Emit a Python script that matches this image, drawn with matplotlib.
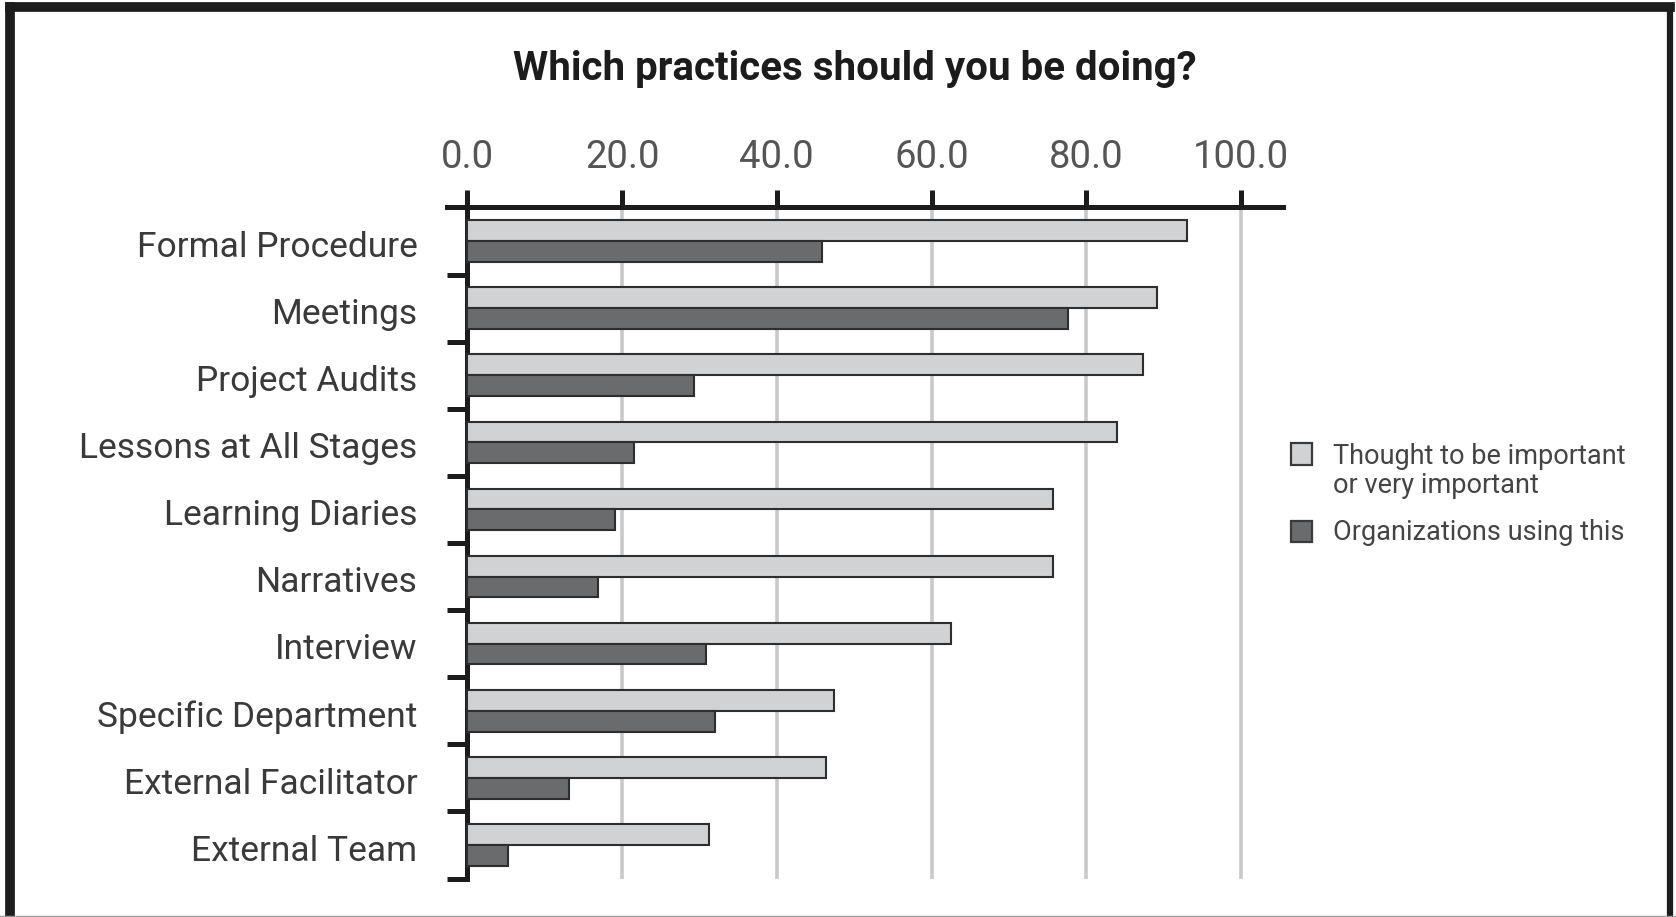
import numpy as np
import matplotlib
matplotlib.use("Agg")
import matplotlib.pyplot as plt
from matplotlib.patches import Rectangle
from matplotlib.lines import Line2D

# survey results, percent of respondents
practices = ['Formal Procedure', 'Meetings', 'Project Audits', 'Lessons at All Stages',
             'Learning Diaries', 'Narratives', 'Interview', 'Specific Department',
             'External Facilitator', 'External Team']
important = [93.0, 89.2, 87.3, 84.0, 75.7, 75.7, 62.5, 47.4, 46.3, 31.3]
using = [45.9, 77.7, 29.3, 21.6, 19.1, 16.9, 30.9, 32.0, 13.1, 5.3]
xticks = [0, 20, 40, 60, 80, 100]
legend_labels = ['Thought to be important\nor very important', 'Organizations using this']
title = 'Which practices should you be doing?'

LIGHT = '#d1d2d4'
DARK = '#6a6b6d'
EDGE = '#2e2e2e'
INK = '#1c1c1c'

plt.rcParams['font.family'] = ['Roboto', 'DejaVu Sans']
NARROW = ['Liberation Sans Narrow', 'Roboto', 'DejaVu Sans']

W, H = 1676, 917
fig = plt.figure(figsize=(W / 100, H / 100), dpi=100)
ax = fig.add_axes([446.8 / W, 1 - 878.6 / H, 835.9 / W, 671.2 / H])

y = np.arange(len(practices))
ax.barh(y - 0.155, important, height=0.31, color=LIGHT, edgecolor=EDGE, lw=1.5, zorder=3)
ax.barh(y + 0.155, using, height=0.31, color=DARK, edgecolor=EDGE, lw=1.5, zorder=3)

ax.set_xlim(-2.66, 105.4)
ax.set_ylim(len(practices) - 0.5, -0.5)

# axis on top, category axis pinned at zero
for s in ['right', 'bottom']:
    ax.spines[s].set_visible(False)
ax.spines['top'].set_linewidth(3.6)
ax.spines['top'].set_color(INK)
ax.spines['left'].set_position(('data', 0))
ax.spines['left'].set_linewidth(3.6)
ax.spines['left'].set_color(INK)

ax.xaxis.tick_top()
ax.set_xticks(xticks)
ax.set_xticklabels([f'{v:.1f}' for v in xticks])
ax.tick_params(axis='x', direction='out', length=12.5, width=3.6, color=INK,
               labelsize=27.5, labelcolor='#555555', pad=10)

ax.set_yticks(y + 0.5)
ax.set_yticklabels([])
ax.set_yticks(y + 0.04, minor=True)
ax.set_yticklabels(practices, minor=True)
ax.tick_params(axis='y', which='major', direction='out', length=14.5, width=3.6, color=INK)
ax.tick_params(axis='y', which='minor', length=0, pad=36, labelsize=25.5, labelcolor='#3a3a3a')

ax.grid(axis='x', color='#c8c9cb', lw=2.6, zorder=0)
ax.set_axisbelow(True)

fig.text(855 / W, 1 - 69 / H, title, ha='center', va='center', fontsize=29,
         fontweight='bold', color=INK, family=NARROW)

# legend
for (cy, fc) in [(454, LIGHT), (531, DARK)]:
    fig.add_artist(Rectangle((1291 / W, 1 - (cy + 10.5) / H), 21 / W, 21 / H,
                             transform=fig.transFigure, facecolor=fc,
                             edgecolor='#3a3a3a', lw=1.6))
fig.text(1333 / W, 1 - 471 / H, legend_labels[0], ha='left', va='center', fontsize=19.5,
         color='#444444', family=NARROW, linespacing=1.12)
fig.text(1333 / W, 1 - 533 / H, legend_labels[1], ha='left', va='center', fontsize=19.5,
         color='#444444', family=NARROW)

# outer frame
fig.add_artist(Line2D([10 / W, 10 / W], [0, 1 - 7 / H], transform=fig.transFigure,
                      color=INK, lw=7, solid_capstyle='projecting'))
fig.add_artist(Line2D([10 / W, 1670 / W], [1 - 7 / H, 1 - 7 / H], transform=fig.transFigure,
                      color=INK, lw=7, solid_capstyle='projecting'))
fig.add_artist(Line2D([1670 / W, 1670 / W], [0, 1 - 7 / H], transform=fig.transFigure,
                      color=INK, lw=4.5))
fig.add_artist(Line2D([0, 1], [1.5 / H, 1.5 / H], transform=fig.transFigure,
                      color='#9a9a9a', lw=1))

fig.savefig('out.png', dpi=100)
